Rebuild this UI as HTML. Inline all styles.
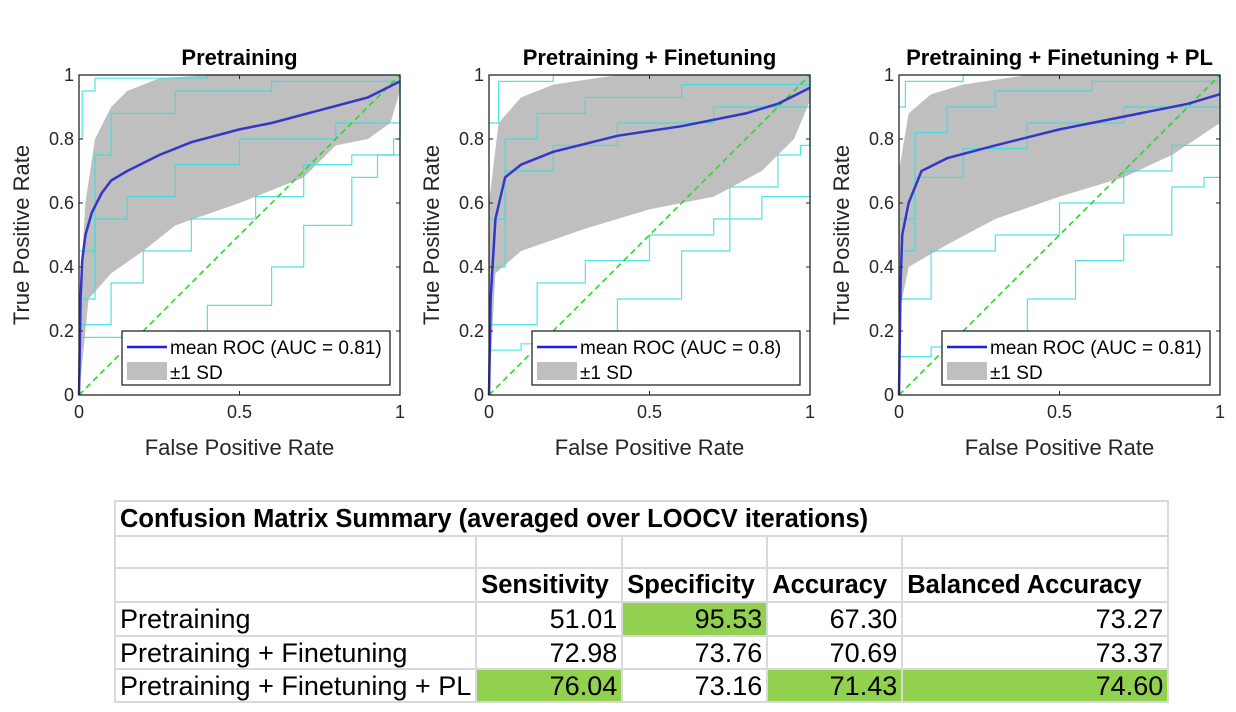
<!DOCTYPE html>
<html><head><meta charset="utf-8">
<style>
body{margin:0;background:#fff;width:1236px;height:712px;overflow:hidden;font-family:"Liberation Sans",Arial,sans-serif;}
svg{position:absolute;left:0;top:0}
table{position:absolute;left:114px;top:500px;border-collapse:collapse;font-size:27px;color:#000;table-layout:fixed}
td{border:2px solid #d9d9d9;padding:0 4px;height:30px;line-height:30px;white-space:nowrap;overflow:hidden}
td.n{text-align:right}
.g{background:#92d050}
.b{font-weight:bold;font-size:25.5px}
</style></head><body>
<svg id="chart" width="1236" height="500"></svg>
<table>
<colgroup><col style="width:359px"><col style="width:146px"><col style="width:145px"><col style="width:135px"><col style="width:266px"></colgroup>
<tr style="height:35px"><td colspan="5" class="b">Confusion Matrix Summary (averaged over LOOCV iterations)</td></tr>
<tr style="height:32px"><td></td><td></td><td></td><td></td><td></td></tr>
<tr style="height:34px"><td></td><td class="b">Sensitivity</td><td class="b">Specificity</td><td class="b">Accuracy</td><td class="b">Balanced Accuracy</td></tr>
<tr style="height:34px"><td>Pretraining</td><td class="n">51.01</td><td class="n g">95.53</td><td class="n">67.30</td><td class="n">73.27</td></tr>
<tr style="height:33px"><td>Pretraining + Finetuning</td><td class="n">72.98</td><td class="n">73.76</td><td class="n">70.69</td><td class="n">73.37</td></tr>
<tr style="height:33px"><td>Pretraining + Finetuning + PL</td><td class="n g">76.04</td><td class="n">73.16</td><td class="n g">71.43</td><td class="n g">74.60</td></tr>
</table>
<script>
const titles=["Pretraining","Pretraining + Finetuning","Pretraining + Finetuning + PL"];
const aucLabels=["0.81","0.8","0.81"];
const tickLabels=["0","0.2","0.4","0.6","0.8","1"];
const xTickLabels=["0","0.5","1"];
const meanCurves=[
[[0,0],[0.005,0.3],[0.01,0.42],[0.02,0.5],[0.04,0.57],[0.07,0.63],[0.1,0.67],[0.15,0.7],[0.25,0.75],[0.35,0.79],[0.5,0.83],[0.6,0.85],[0.75,0.89],[0.9,0.93],[1,0.98]],
[[0,0],[0.005,0.3],[0.02,0.55],[0.05,0.68],[0.1,0.72],[0.2,0.76],[0.4,0.81],[0.6,0.84],[0.8,0.88],[0.9,0.91],[1,0.96]],
[[0,0],[0.005,0.35],[0.01,0.5],[0.03,0.6],[0.07,0.7],[0.15,0.74],[0.3,0.78],[0.5,0.83],[0.7,0.87],[0.9,0.91],[1,0.94]]];
const upperBands=[
[[0,0.25],[0.02,0.6],[0.05,0.8],[0.1,0.9],[0.15,0.95],[0.25,0.99],[0.4,1],[1,1]],
[[0,0.6],[0.03,0.85],[0.1,0.93],[0.2,0.97],[0.4,1],[1,1]],
[[0,0.7],[0.03,0.88],[0.1,0.94],[0.2,0.97],[0.4,1],[1,1]]];
const lowerBands=[
[[0,0],[0.03,0.3],[0.1,0.38],[0.2,0.45],[0.3,0.53],[0.5,0.6],[0.7,0.68],[0.8,0.78],[0.9,0.8],[0.97,0.85],[1,0.95]],
[[0,0],[0.02,0.38],[0.1,0.45],[0.3,0.52],[0.5,0.58],[0.7,0.62],[0.85,0.7],[0.95,0.8],[1,0.92]],
[[0,0.25],[0.03,0.4],[0.15,0.47],[0.3,0.55],[0.5,0.62],[0.7,0.68],[0.85,0.75],[1,0.85]]];
const foldCurves=[
[[[0,0.18],[0.3,0.2],[0.4,0.28],[0.6,0.4],[0.7,0.53],[0.85,0.68],[0.93,0.75],[0.98,0.8],[1,1]],
 [[0,0.22],[0.1,0.35],[0.2,0.45],[0.35,0.55],[0.55,0.62],[0.7,0.72],[0.85,0.75],[1,1]],
 [[0,0.8],[0.01,0.95],[0.05,0.99],[0.4,1],[1,1]],
 [[0,0.45],[0.05,0.75],[0.1,0.88],[0.3,0.95],[0.6,0.98],[1,1]],
 [[0,0.3],[0.05,0.55],[0.15,0.62],[0.3,0.72],[0.5,0.8],[0.8,0.85],[1,1]]],
[[[0,0.14],[0.1,0.16],[0.2,0.2],[0.4,0.3],[0.6,0.45],[0.75,0.65],[0.9,0.75],[0.97,0.78],[1,1]],
 [[0,0.22],[0.15,0.35],[0.3,0.42],[0.5,0.5],[0.7,0.55],[0.85,0.62],[1,1]],
 [[0,0.85],[0.03,0.98],[0.2,1],[1,1]],
 [[0,0.55],[0.05,0.8],[0.15,0.88],[0.3,0.93],[0.6,0.97],[1,1]],
 [[0,0.4],[0.05,0.7],[0.2,0.78],[0.4,0.85],[0.7,0.9],[1,1]]],
[[[0,0.12],[0.1,0.15],[0.2,0.2],[0.4,0.3],[0.55,0.42],[0.7,0.5],[0.85,0.65],[0.95,0.68],[1,1]],
 [[0,0.3],[0.1,0.45],[0.3,0.5],[0.5,0.6],[0.7,0.7],[0.85,0.78],[1,1]],
 [[0,0.9],[0.02,0.98],[0.2,1],[1,1]],
 [[0,0.55],[0.05,0.82],[0.15,0.9],[0.3,0.95],[0.6,0.98],[1,1]],
 [[0,0.45],[0.05,0.68],[0.2,0.77],[0.4,0.85],[0.7,0.9],[1,1]]]];
const lefts=[79,489,899], W=321, T0=75, H=320;
const svg=document.getElementById('chart');
const NS='http://www.w3.org/2000/svg';
function mk(tag,attrs){const e=document.createElementNS(NS,tag);for(const k in attrs)e.setAttribute(k,attrs[k]);svg.appendChild(e);return e;}
for(let p=0;p<3;p++){
  const L=lefts[p];
  const sx=v=>L+v*W, sy=v=>T0+H-v*H;
  const pts=a=>a.map(q=>sx(q[0]).toFixed(1)+','+sy(q[1]).toFixed(1)).join(' ');
  const band=mk('polygon',{points:pts(upperBands[p])+' '+pts(lowerBands[p].slice().reverse()),fill:'#bfbfbf',stroke:'none'});
  
  
  foldCurves[p].forEach(c=>{
    let s=[];for(let i=0;i<c.length;i++){if(i>0)s.push([c[i][0],c[i-1][1]]);s.push(c[i]);}
    const l=mk('polyline',{points:pts(s),fill:'none',stroke:'#30e0e0',"stroke-width":1.2,opacity:0.85});
    
    
  });
  const d=mk('line',{x1:sx(0),y1:sy(0),x2:sx(1),y2:sy(1),stroke:'#22dd22',"stroke-width":1.6,"stroke-dasharray":"6,4"});
  
  
  const m=mk('polyline',{points:pts(meanCurves[p]),fill:'none',stroke:'#3535c8',"stroke-width":2.5});
  
  
  const ax=mk('rect',{x:L,y:T0,width:W,height:H,fill:'none',stroke:'#262626',"stroke-width":1.3});
  
  
  tickLabels.forEach((t,i)=>{
    const v=i/5;
    mk('line',{x1:L,y1:sy(v),x2:L+4,y2:sy(v),stroke:'#262626'});
    mk('line',{x1:L+W,y1:sy(v),x2:L+W-4,y2:sy(v),stroke:'#262626'});
    const tx=mk('text',{x:L-5,y:sy(v)+6,"text-anchor":"end","font-size":18,fill:'#262626'});tx.textContent=t;
    
    
  });
  xTickLabels.forEach((t,i)=>{
    const v=i/2;
    mk('line',{x1:sx(v),y1:T0+H,x2:sx(v),y2:T0+H-4,stroke:'#262626'});
    mk('line',{x1:sx(v),y1:T0,x2:sx(v),y2:T0+4,stroke:'#262626'});
    const tx=mk('text',{x:sx(v),y:T0+H+23,"text-anchor":"middle","font-size":18,fill:'#262626'});tx.textContent=t;
    
    
  });
  const ti=mk('text',{x:L+W/2,y:65,"text-anchor":"middle","font-size":22,"font-weight":"bold",fill:'#000'});ti.textContent=titles[p];
  
  
  const xl=mk('text',{x:L+W/2,y:455,"text-anchor":"middle","font-size":22,fill:'#262626'});xl.textContent='False Positive Rate';
  
  
  const yl=mk('text',{x:0,y:0,"text-anchor":"middle","font-size":22,fill:'#262626',transform:`translate(${L-50},${T0+H/2}) rotate(-90)`});yl.textContent='True Positive Rate';
  
  
  const lx=L+43, ly=331;
  const lg=mk('rect',{x:lx,y:ly,width:268,height:54,fill:'#fff',stroke:'#262626',"stroke-width":1.3});
  
  
  mk('line',{x1:lx+5,y1:ly+16,x2:lx+45,y2:ly+16,stroke:'#1f1fe0',"stroke-width":2.5});
  const t1=mk('text',{x:lx+48,y:ly+23,"font-size":19,fill:'#000'});t1.textContent='mean ROC (AUC = '+aucLabels[p]+')';
  
  
  mk('rect',{x:lx+5,y:ly+31,width:40,height:18,fill:'#bfbfbf'});
  const t2=mk('text',{x:lx+48,y:ly+48,"font-size":19,fill:'#000'});t2.textContent='±1 SD';
  
  
}
</script>
</body></html>
